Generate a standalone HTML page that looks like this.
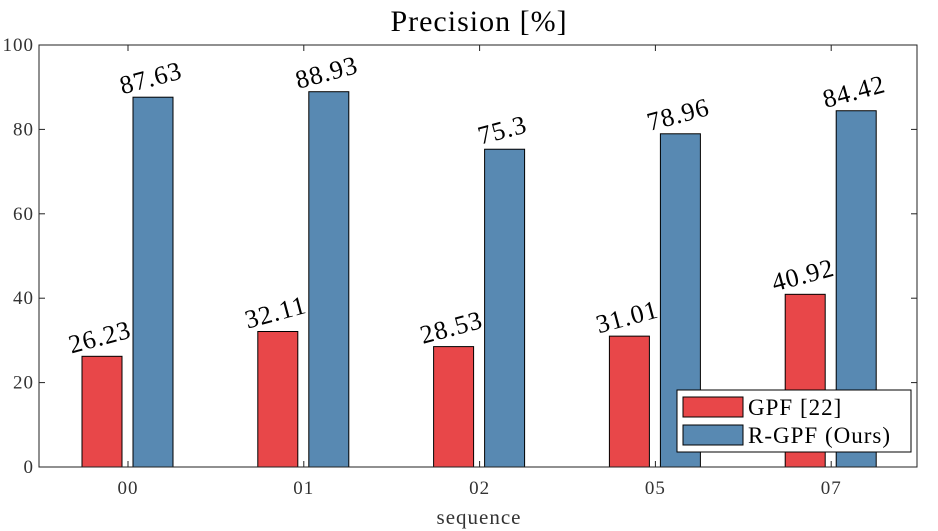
<!DOCTYPE html>
<html><head><meta charset="utf-8"><style>
body{margin:0;background:#fff;}
svg{display:block;font-family:"Liberation Serif",serif;}
</style></head><body>
<svg id="chart" width="938" height="531">
<text x="479" y="31" font-size="30" letter-spacing="1" text-anchor="middle">Precision [%]</text>
<text x="479" y="524" font-size="21" letter-spacing="1" text-anchor="middle" fill="#333">sequence</text>
<g id="plot"></g>
</svg>
<script>
const categories=["00","01","02","05","07"];
const gpfValues=[26.23,32.11,28.53,31.01,40.92];
const rgpfValues=[87.63,88.93,75.3,78.96,84.42];
const gpfLabels=["26.23","32.11","28.53","31.01","40.92"];
const rgpfLabels=["87.63","88.93","75.3","78.96","84.42"];
const yTicks=[0,20,40,60,80,100];
const L=39,R=917,T=45,B=467;
const ns="http://www.w3.org/2000/svg";
const g=document.getElementById('plot');
function y(v){return B-(v/100)*(B-T);}
function x(i){return 128+i*175.8;}
function mk(t,a,p){const e=document.createElementNS(ns,t);for(const k in a)e.setAttribute(k,a[k]);(p||g).appendChild(e);return e;}
yTicks.forEach(v=>{
  const l=mk('line',{x1:L,x2:L+6,y1:y(v),y2:y(v),stroke:'#222'});
  
  
  const r=mk('line',{x1:R-6,x2:R,y1:y(v),y2:y(v),stroke:'#222'});
  
  
  const t=mk('text',{x:L-5,y:y(v)+6,'font-size':19,'letter-spacing':1,'text-anchor':'end',fill:'#333'});
  t.textContent=v;
  
  
});
function bar(i,val,lab,off,color,name){
  const bx=x(i)+off-20;
  const r=mk('rect',{x:bx,y:y(val),width:40,height:B-y(val),fill:color,stroke:'#000','stroke-width':1});
  
  
  const cx=bx+20,cy=y(val)-11;
  const t=mk('text',{x:cx,y:cy,'font-size':26,'letter-spacing':1,'text-anchor':'middle',transform:`rotate(-15 ${cx} ${cy})`});
  t.textContent=lab;
  
  
}
categories.forEach((c,i)=>{
  bar(i,gpfValues[i],gpfLabels[i],-26,'#e84749','bar-gpf-'+c);
  bar(i,rgpfValues[i],rgpfLabels[i],25,'#5889b2','bar-rgpf-'+c);
  const tk=mk('line',{x1:x(i),x2:x(i),y1:B-6,y2:B,stroke:'#222'});
  
  
  const tt=mk('line',{x1:x(i),x2:x(i),y1:T,y2:T+6,stroke:'#222'});
  
  
  const t=mk('text',{x:x(i),y:B+27,'font-size':19,'letter-spacing':1,'text-anchor':'middle',fill:'#333'});
  t.textContent=c;
  
  
});
const fr=mk('rect',{x:L,y:T,width:R-L,height:B-T,fill:'none',stroke:'#222','stroke-width':1});


const lg=mk('g',{});


mk('rect',{x:677,y:390,width:234,height:62,fill:'#fff',stroke:'#000'},lg);
[['#e84749','GPF [22]',397],['#5889b2','R-GPF (Ours)',425]].forEach(([c,l,yy])=>{
  const s=mk('rect',{x:683,y:yy,width:60,height:20,fill:c,stroke:'#000'},lg);
  
  
  const t=mk('text',{x:748,y:yy+18,'font-size':23,'letter-spacing':1},lg);
  t.textContent=l;
  
  
});
</script>
</body></html>
